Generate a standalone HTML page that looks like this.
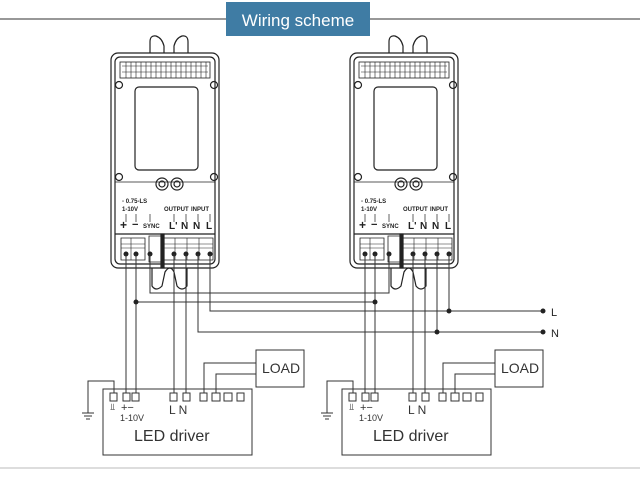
<!DOCTYPE html>
<html><head><meta charset="utf-8"><style>
html,body{margin:0;padding:0;background:#fff;width:640px;height:480px;overflow:hidden}
svg{display:block}
text{font-family:"Liberation Sans",sans-serif}
</style></head><body>
<svg width="640" height="480" viewBox="0 0 640 480" xmlns="http://www.w3.org/2000/svg">
<line x1="0" y1="19" x2="640" y2="19" stroke="#777" stroke-width="1.5"/>
<line x1="0" y1="468" x2="640" y2="468" stroke="#bbb" stroke-width="1"/>
<rect x="226" y="2" width="144" height="34" fill="#3f7ca4"/>
<text x="298" y="26" fill="#fff" font-size="17" text-anchor="middle">Wiring  scheme</text>

<defs>
<g id="dev" fill="none" stroke="#222" stroke-width="1.2">
  <path d="M150 53 L150 42 Q150 35 156 36 Q162 38 164 46 L164 53 M174 53 L174 46 Q176 38 182 36 Q188 35 188 42 L188 53"/>
  <rect x="111" y="53" width="108" height="215" rx="7"/>
  <rect x="115" y="57" width="100" height="207" rx="5"/>
  <rect x="120" y="62" width="90" height="16" stroke-width="0.8"/>
  <path d="M122 66h86M122 72h86" stroke-width="0.6"/>
  <path d="M126 62v16M131 62v16M136 62v16M141 62v16M146 62v16M151 62v16M156 62v16M161 62v16M166 62v16M171 62v16M176 62v16M181 62v16M186 62v16M191 62v16M196 62v16M201 62v16M206 62v16" stroke-width="0.6"/>
  <circle cx="119" cy="85" r="3.5"/><circle cx="214" cy="85" r="3.5"/>
  <circle cx="119" cy="177" r="3.5"/><circle cx="214" cy="177" r="3.5"/>
  <rect x="135" y="87" width="63" height="83" rx="4"/>
  <circle cx="162" cy="184" r="6"/><circle cx="162" cy="184" r="3"/>
  <circle cx="177" cy="184" r="6"/><circle cx="177" cy="184" r="3"/>
  <line x1="115" y1="182" x2="215" y2="182" stroke-width="0.8"/>
  <line x1="115" y1="234" x2="215" y2="234"/>
  <path d="M121 238h24v22h-24z M149 236h12v26h-12z M163 238h50v22h-50z" stroke-width="0.8"/>
  <path d="M131 238v22M175 238v22M187 238v22M199 238v22M163 244h50M163 248h50M121 244h24M121 248h24" stroke-width="0.6"/>
  <rect x="161" y="234" width="3" height="34" fill="#222"/>
  <path d="M152 268 L152 286 Q156 292 162 286 L165 272 Q170 264 174 272 L177 286 Q182 292 187 286 L187 268"/>
  <g fill="#222" stroke="none">
    <circle cx="126" cy="254" r="2.5"/><circle cx="136" cy="254" r="2.5"/><circle cx="150" cy="254" r="2.5"/>
    <circle cx="174" cy="254" r="2.5"/><circle cx="186" cy="254" r="2.5"/><circle cx="198" cy="254" r="2.5"/><circle cx="210" cy="254" r="2.5"/>
  </g>
  <g fill="#222" stroke="none" font-size="6" font-weight="bold">
    <text x="122" y="203">▫ 0.75-LS</text>
    <text x="122" y="211">1-10V</text>
    <text x="164" y="211">OUTPUT</text>
    <text x="191" y="211">INPUT</text>
    <text x="120" y="229" font-size="12">+</text>
    <text x="132" y="228" font-size="11">−</text>
    <text x="143" y="228">SYNC</text>
    <text x="169" y="229" font-size="10">L'</text>
    <text x="181" y="229" font-size="10">N</text>
    <text x="193" y="229" font-size="10">N</text>
    <text x="206" y="229" font-size="10">L</text>
  </g>
  <path d="M126 214v8M136 214v8M150 214v8M174 214v8M186 214v8M198 214v8M210 214v8" stroke-width="0.7"/>
</g>
<g id="drv" fill="none" stroke="#333" stroke-width="1">
  <rect x="103" y="389" width="149" height="66"/>
  <rect x="110" y="393" width="7" height="8"/><rect x="123" y="393" width="7" height="8"/><rect x="132" y="393" width="7" height="8"/>
  <rect x="170" y="393" width="7" height="8"/><rect x="183" y="393" width="7" height="8"/>
  <rect x="200" y="393" width="7" height="8"/><rect x="212" y="393" width="8" height="8"/><rect x="224" y="393" width="8" height="8"/><rect x="237" y="393" width="7" height="8"/>
  <rect x="256" y="350" width="48" height="37"/>
  <path d="M204 393V363H256M216 393V374H256"/>
  <path d="M114 393V381H88V413M82 413h12M84 416h8M86 419h4"/>
  <g fill="#333" stroke="none">
    <text x="262" y="373" font-size="14">LOAD</text>
    <text x="110" y="410" font-size="9">⫫</text>
    <text x="121" y="411" font-size="11">+−</text>
    <text x="120" y="421" font-size="9">1-10V</text>
    <text x="169" y="414" font-size="12">L N</text>
    <text x="134" y="441" font-size="16">LED driver</text>
  </g>
</g>
</defs>

<use href="#dev"/>
<use href="#dev" transform="translate(239,0)"/>
<use href="#drv"/>
<use href="#drv" transform="translate(239,0)"/>

<g fill="none" stroke="#333" stroke-width="1">
  <!-- device1 to driver1 -->
  <path d="M126 254V393M136 254V393M174 254V393M186 254V393"/>
  <path d="M365 254V393M375 254V393M413 254V393M425 254V393"/>
  <!-- sync -->
  <path d="M150 254V293H389V254"/>
  <!-- minus -->
  <path d="M136 302H375"/>
  <!-- L -->
  <path d="M210 254V311H543M449 254V311"/>
  <!-- N -->
  <path d="M198 254V332H543M437 254V332"/>
</g>
<g fill="#222">
  <circle cx="136" cy="302" r="2.5"/><circle cx="375" cy="302" r="2.5"/>
  <circle cx="449" cy="311" r="2.5"/><circle cx="543" cy="311" r="2.5"/>
  <circle cx="437" cy="332" r="2.5"/><circle cx="543" cy="332" r="2.5"/>
  <text x="551" y="316" font-size="11">L</text>
  <text x="551" y="337" font-size="11">N</text>
</g>
</svg>
</body></html>
